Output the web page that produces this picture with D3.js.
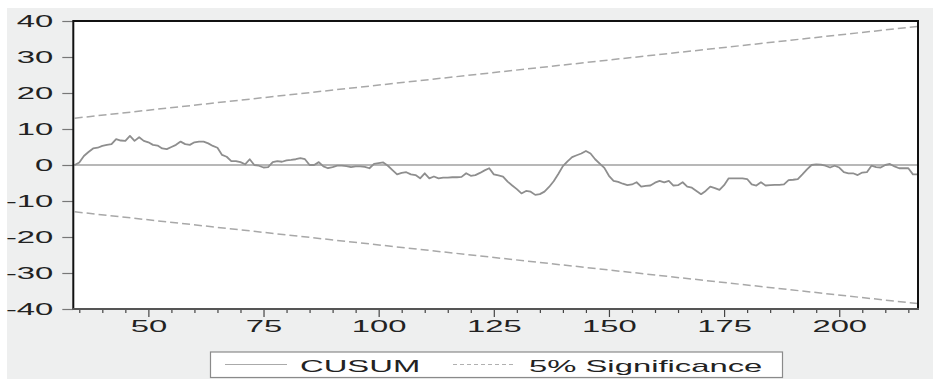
<!DOCTYPE html>
<html>
<head>
<meta charset="utf-8">
<script src="https://cdn.jsdelivr.net/npm/d3@7"></script>
<style>
  body { margin: 0; background: #fff; }
  text { font-family: "Liberation Sans", Arial, sans-serif; fill: #222; }
</style>
</head>
<body>
<div id="chart"></div>
<script>
// observations 34..217 and the CUSUM value at each one
var firstObs = 34;
var cusum = [
  0, 0.7, 2.5, 3.6, 4.6, 4.8, 5.3, 5.6, 5.8, 7.2,
  6.8, 6.7, 8.1, 6.7, 7.7, 6.7, 6.3, 5.6, 5.4, 4.6,
  4.4, 5.0, 5.6, 6.5, 5.8, 5.6, 6.3, 6.5, 6.5, 6.0,
  5.3, 4.8, 2.8, 2.3, 1.1, 1.1, 0.8, 0.2, 1.6, 0,
  -0.2, -0.7, -0.6, 0.8, 1.1, 0.9, 1.3, 1.4, 1.6, 1.9,
  1.6, 0, 0, 0.8, -0.4, -0.9, -0.6, -0.2, -0.2, -0.3,
  -0.6, -0.4, -0.4, -0.5, -0.9, 0.3, 0.5, 0.7, -0.2, -1.4,
  -2.6, -2.2, -2.0, -2.6, -2.8, -3.7, -2.3, -3.7, -3.2, -3.7,
  -3.5, -3.5, -3.4, -3.4, -3.3, -2.3, -3.0, -2.8, -2.2, -1.5,
  -0.9, -2.6, -2.9, -3.2, -4.6, -5.7, -6.7, -7.9, -7.2, -7.4,
  -8.3, -8.1, -7.4, -6.1, -4.5, -2.5, -0.3, 1.0, 2.2, 2.7,
  3.2, 3.9, 3.2, 1.6, 0.4, -0.8, -3.0, -4.4, -4.7, -5.2,
  -5.6, -5.4, -4.8, -6.0, -5.8, -5.7, -4.9, -4.4, -4.8, -4.4,
  -5.7, -5.6, -4.8, -6.0, -6.3, -7.2, -8.1, -7.2, -6.0, -6.4,
  -6.9, -5.6, -3.7, -3.7, -3.7, -3.7, -3.9, -5.4, -5.7, -4.8,
  -5.7, -5.6, -5.5, -5.5, -5.4, -4.2, -4.1, -3.9, -2.6, -1.2,
  0, 0.2, 0.1, -0.2, -0.7, -0.2, -0.7, -2.0, -2.3, -2.3,
  -2.8, -2.1, -2.0, -0.2, -0.6, -0.7, 0, 0.3, -0.4, -0.9,
  -0.9, -0.9, -2.6, -2.6
];
// 5% significance bounds (straight lines between the two ends)
var boundObs = [34, 217];
var upperBound = [13.0, 38.5];
var lowerBound = [-13.0, -38.5];

var yTicks = [-40, -30, -20, -10, 0, 10, 20, 30, 40];
var xMajor = [50, 75, 100, 125, 150, 175, 200];
var xMinor = d3.range(35, 217, 5);
var legendNames = ["CUSUM", "5% Significance"];

var W = 933, H = 379;
var plotLeft = 73.3, plotRight = 918, plotTop = 21, plotBottom = 309;

var svg = d3.select("#chart").append("svg")
    .attr("width", W)
    .attr("height", H);

// grey frame background
svg.append("rect")
    .attr("x", 7).attr("y", 8)
    .attr("width", W - 7).attr("height", H - 8)
    .attr("fill", "#eeefef");

var x = d3.scaleLinear().domain([33.7, 217.1]).range([plotLeft, plotRight]);
var y = d3.scaleLinear().domain([-40, 40]).range([plotBottom, plotTop]);

svg.append("rect")
    .attr("x", plotLeft).attr("y", plotTop)
    .attr("width", plotRight - plotLeft).attr("height", plotBottom - plotTop)
    .attr("fill", "#fff");

// text in the picture is stretched sideways
var stretch = 2.05;

// y axis
var yAxis = svg.append("g")
    .attr("transform", "translate(" + plotLeft + ",0)")
    .call(d3.axisLeft(y).tickValues(yTicks).tickSize(11).tickFormat(function(d){ return String(d); }));
yAxis.select(".domain").remove();
yAxis.selectAll(".tick line").attr("stroke", "#777").attr("stroke-width", 1.2);
yAxis.selectAll(".tick text")
    .attr("x", -20 / stretch)
    .attr("transform", "scale(" + stretch + ",1)")
    .style("font-size", "16px")
    .style("font-family", "'Liberation Sans', Arial, sans-serif")
    .attr("fill", "#222");

// x axis, minor ticks first
var xAxisMinor = svg.append("g")
    .attr("transform", "translate(0," + plotBottom + ")")
    .call(d3.axisBottom(x).tickValues(xMinor.filter(function(v){ return v % 25 != 0; })).tickSize(4).tickFormat(""));
xAxisMinor.select(".domain").remove();
xAxisMinor.selectAll(".tick line").attr("stroke", "#444").attr("stroke-width", 1.2);

var xAxis = svg.append("g")
    .attr("transform", "translate(0," + plotBottom + ")")
    .call(d3.axisBottom(x).tickValues(xMajor).tickSize(8).tickPadding(4).tickFormat(d3.format("d")));
xAxis.select(".domain").remove();
xAxis.selectAll(".tick line").attr("stroke", "#444").attr("stroke-width", 1.2);
xAxis.selectAll(".tick text")
    .attr("transform", "scale(" + stretch + ",1)")
    .style("font-size", "16px")
    .style("font-family", "'Liberation Sans', Arial, sans-serif")
    .attr("fill", "#222");

// zero line
svg.append("line")
    .attr("x1", plotLeft).attr("x2", plotRight)
    .attr("y1", y(0)).attr("y2", y(0))
    .attr("stroke", "#a0a0a0")
    .attr("stroke-width", 1.5);

// significance bounds
var line = d3.line()
    .x(function(d){ return x(d[0]); })
    .y(function(d){ return y(d[1]); });

[upperBound, lowerBound].forEach(function(b){
    svg.append("path")
        .datum(boundObs.map(function(o, i){ return [o, b[i]]; }))
        .attr("d", line)
        .attr("fill", "none")
        .attr("stroke", "#a8a8a8")
        .attr("stroke-width", 1.5)
        .attr("stroke-dasharray", "8,4");
});

// cusum line
svg.append("path")
    .datum(cusum.map(function(v, i){ return [firstObs + i, v]; }))
    .attr("d", line)
    .attr("fill", "none")
    .attr("stroke", "#8e8e8e")
    .attr("stroke-width", 1.8)
    .attr("stroke-linejoin", "round");

// frame of the plot
svg.append("path")
    .attr("d", "M" + plotLeft + "," + plotBottom + " L" + plotLeft + "," + plotTop + " L" + plotRight + "," + plotTop + " L" + plotRight + "," + plotBottom)
    .attr("fill", "none")
    .attr("stroke", "#111")
    .attr("stroke-width", 2);
svg.append("line")
    .attr("x1", plotLeft - 1).attr("x2", plotRight + 1)
    .attr("y1", plotBottom).attr("y2", plotBottom)
    .attr("stroke", "#555")
    .attr("stroke-width", 2);

// legend
var lg = svg.append("g");
lg.append("rect")
    .attr("x", 210.5).attr("y", 352)
    .attr("width", 572).attr("height", 25.5)
    .attr("fill", "#fff")
    .attr("stroke", "#8a8a8a")
    .attr("stroke-width", 1.2);
lg.append("line")
    .attr("x1", 225).attr("x2", 287)
    .attr("y1", 364.5).attr("y2", 364.5)
    .attr("stroke", "#aaa").attr("stroke-width", 1.2);
lg.append("line")
    .attr("x1", 453).attr("x2", 514)
    .attr("y1", 364.5).attr("y2", 364.5)
    .attr("stroke", "#b0b0b0").attr("stroke-width", 1.2)
    .attr("stroke-dasharray", "4,3");
[[300, legendNames[0]], [529, legendNames[1]]].forEach(function(t){
    lg.append("text")
        .attr("transform", "translate(" + t[0] + ",371.5) scale(" + stretch + ",1)")
        .style("font-size", "16px")
        .text(t[1]);
});
</script>
</body>
</html>
